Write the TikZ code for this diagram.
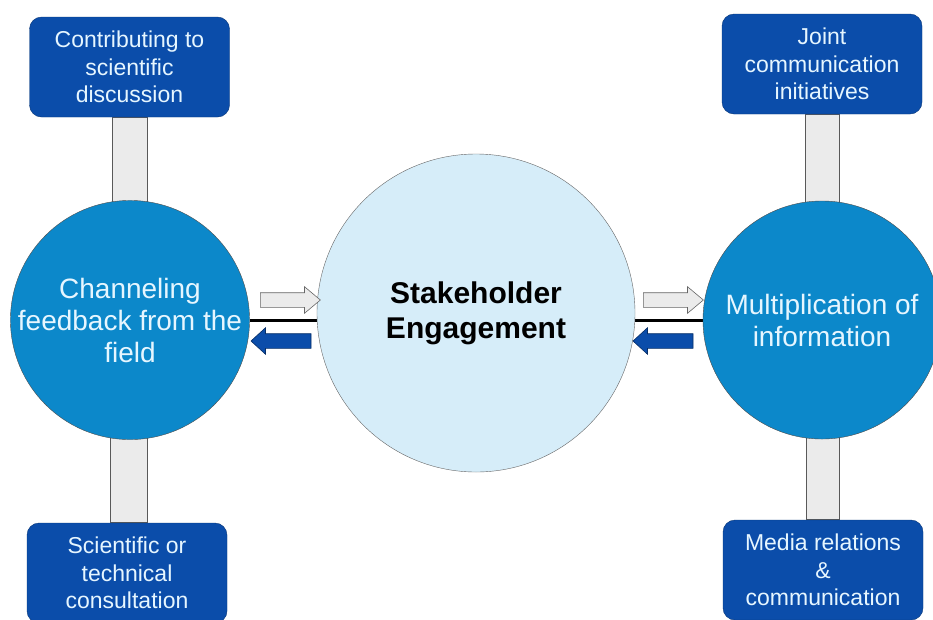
\documentclass[tikz,border=0pt]{standalone}
\usepackage{fontspec}
\setmainfont{Liberation Sans}
\usetikzlibrary{shapes.arrows}
\definecolor{boxblue}{RGB}{11,77,170}
\definecolor{circblue}{RGB}{12,136,202}
\definecolor{centfill}{RGB}{214,237,249}
\definecolor{txtlight}{RGB}{230,246,255}
\definecolor{bargray}{RGB}{235,235,235}
\pgfdeclarelayer{bg}
\pgfsetlayers{bg,main}
\begin{document}
\begin{tikzpicture}[x=1pt,y=-1pt,
  infobox/.style={draw=boxblue!70!black, fill=boxblue, rounded corners=12pt,
    minimum width=200pt, minimum height=100pt, text=txtlight, align=center,
    font=\fontsize{23}{27.5}\selectfont, inner sep=0pt},
  sidecirc/.style={circle, draw=black!70, fill=circblue, minimum size=238pt,
    text=txtlight, align=center, font=\fontsize{28}{32}\selectfont, inner sep=0pt},
  centcirc/.style={circle, draw=black!60, fill=centfill, minimum size=318pt,
    align=center, font=\fontsize{30}{35}\selectfont\bfseries, inner sep=0pt},
  barstyle/.style={draw=black!65, fill=bargray, line width=0.8pt},
  blockarrow/.style={single arrow, minimum height=60pt, inner xsep=0pt,
    inner ysep=7pt, single arrow head extend=6pt, text height=0pt, text depth=0pt,
    line width=0.6pt},
  whitearrow/.style={blockarrow, draw=black!60, fill=bargray, single arrow tip angle=80},
  bluearrow/.style={blockarrow, draw=boxblue!60!black, fill=boxblue,
    single arrow tip angle=85, shape border rotate=180},
  linkline/.style={line width=3pt, black}
]
\useasboundingbox (0,0) rectangle (933,619);

% circles
\node[sidecirc] (lc) at (130,320) {Channeling\\feedback from the\\field};
\node[centcirc] (sc) at (476,313) {Stakeholder\\Engagement};
\node[sidecirc] (rc) at (822,320) {Multiplication of\\information};

% boxes
\node[infobox] (tl) at (129.5,67) {Contributing to\\scientific\\discussion};
\node[infobox] (bl) at (127,573) {Scientific or\\technical\\consultation};
\node[infobox] (tr) at (822,64) {Joint\\communication\\initiatives};
\node[infobox] (br) at (823,570) {Media relations\\\&\\communication};

\begin{pgfonlayer}{bg}
  \path[barstyle] ([xshift=-17pt]tl.south) rectangle ([xshift=17pt]lc.center);
  \path[barstyle] ([xshift=-17pt]bl.north) rectangle ([xshift=17pt]lc.center);
  \path[barstyle] ([xshift=-17pt]tr.south) rectangle ([xshift=17pt]rc.center);
  \path[barstyle] ([xshift=-17pt]br.north) rectangle ([xshift=17pt]rc.center);
  \draw[linkline] (lc) -- (lc -| sc);
  \draw[linkline] (rc -| sc) -- (rc);
\end{pgfonlayer}

% block arrows
\node[whitearrow] (lw) at (286,300) {};
\node[bluearrow]  (lb) at (285,341) {};
\node[whitearrow] (rw) at (669,300) {};
\node[bluearrow]  (rb) at (667,341) {};
\end{tikzpicture}
\end{document}
